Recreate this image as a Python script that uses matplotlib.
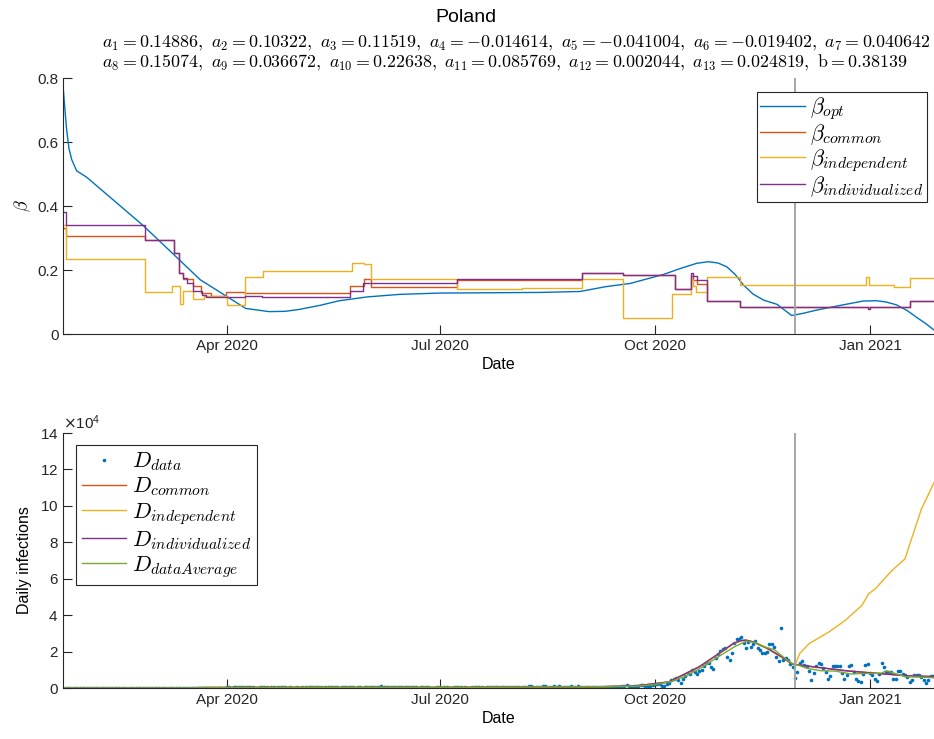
import matplotlib
matplotlib.use("Agg")
import matplotlib.pyplot as plt
import matplotlib.dates as mdates
from matplotlib.ticker import FuncFormatter, ScalarFormatter, FixedLocator
from matplotlib.font_manager import FontProperties
from datetime import datetime
import numpy as np

# ---------------- data ----------------
# days are counted from 22 Jan 2020
START = datetime(2020, 1, 22)
END_DAY = 372.4
CUT_DAY = 313  # 30 Nov 2020

country = "Poland"
a_text = ["0.14886", "0.10322", "0.11519", "-0.014614", "-0.041004", "-0.019402", "0.040642",
          "0.15074", "0.036672", "0.22638", "0.085769", "0.002044", "0.024819"]
b_text = "0.38139"

# beta_opt (smooth curve)
opt_days = [0, 0.7, 1.4, 2.4, 3.6, 5.7, 10, 22, 34, 47, 58.5, 70, 78, 88, 95, 101, 110, 118, 130,
            144, 161, 204, 221, 232, 242.4, 256.6, 264, 270.9, 275.9, 280, 283.8, 287.5, 290.9,
            295, 299.5, 305.2, 311.5, 316, 322.3, 332, 342, 347.8, 352, 356.4, 361, 365, 369,
            372.4]
opt_vals = [0.765, 0.70, 0.64, 0.58, 0.545, 0.51, 0.49, 0.415, 0.34, 0.25, 0.17, 0.117, 0.080,
            0.070, 0.071, 0.077, 0.090, 0.104, 0.116, 0.124, 0.128, 0.130, 0.133, 0.148, 0.158,
            0.186, 0.205, 0.221, 0.226, 0.222, 0.210, 0.185, 0.153, 0.125, 0.106, 0.093, 0.058,
            0.064, 0.075, 0.089, 0.103, 0.104, 0.100, 0.091, 0.073, 0.052, 0.032, 0.0125]

# step functions: change day -> value
common_days = [0, 1, 35, 47.5, 49.5, 51, 55.5, 59, 63, 69.5, 77.5, 122.5, 128.5, 131.5, 168.5,
               196, 222, 239.5, 261.5, 268.5, 269.5, 271, 275.5, 289.5, 362]
common_vals = [0.33, 0.305, 0.295, 0.252, 0.19, 0.171, 0.151, 0.129, 0.119, 0.130, 0.128, 0.151,
               0.171, 0.146, 0.168, 0.17, 0.192, 0.184, 0.141, 0.18, 0.17, 0.156, 0.104, 0.083, 0.104]

indep_days = [0, 1.3, 35, 46.5, 50, 51, 55.5, 60, 70, 77.5, 85.5, 123.5, 128.5, 131.5, 168.5,
              196, 222, 239.5, 260.5, 268.5, 269.5, 270.5, 275.5, 289.5, 343.5, 344.5, 355.5, 362]
indep_vals = [0.34, 0.235, 0.13, 0.15, 0.093, 0.135, 0.109, 0.119, 0.091, 0.179, 0.197, 0.223,
              0.218, 0.172, 0.140, 0.145, 0.171, 0.049, 0.125, 0.169, 0.15, 0.132, 0.179, 0.152,
              0.179, 0.152, 0.146, 0.174]

indiv_days = [0, 1, 35, 47.5, 49.5, 51, 53, 55.5, 59.5, 61, 77.5, 85, 122.5, 128, 168.5, 222,
              239.5, 261.5, 268.5, 269.5, 271, 275.5, 289.5, 344, 345, 362]
indiv_vals = [0.38, 0.34, 0.295, 0.252, 0.19, 0.174, 0.16, 0.135, 0.122, 0.115, 0.12, 0.115,
              0.134, 0.158, 0.171, 0.19, 0.184, 0.141, 0.19, 0.18, 0.169, 0.103, 0.083, 0.078,
              0.083, 0.104]

# daily infections, 22 Jan 2020 .. 28 Jan 2021
d_janfeb = [0] * 42
d_mar = [1, 0, 0, 4, 6, 6, 1, 5, 9, 17, 20, 35, 21, 52, 61, 49, 68, 70, 111, 115, 152, 170, 168,
         249, 224, 193, 256, 243]
d_apr = [392, 437, 244, 475, 311, 435, 357, 370, 380, 336, 318, 401, 260, 268, 380, 336, 363, 545,
         263, 545, 306, 263, 381, 460, 285, 316, 254, 380, 242, 241]
d_may = [294, 268, 306, 205, 344, 307, 325, 330, 313, 330, 595, 196, 292, 353, 323, 285, 375, 303,
         215, 327, 372, 287, 395, 443, 291, 264, 334, 352, 271, 416, 380]
d_jun = [292, 361, 333, 292, 576, 1151, 575, 282, 359, 395, 440, 506, 407, 379, 314, 407, 440, 310,
         371, 300, 301, 192, 298, 302, 305, 325, 260, 212, 232, 300]
d_jul = [371, 262, 373, 299, 243, 193, 290, 280, 299, 358, 264, 299, 233, 230, 299, 321, 358, 349,
         319, 271, 337, 358, 412, 418, 584, 443, 337, 512, 615, 615, 657]
d_aug = [658, 680, 502, 680, 640, 726, 809, 843, 832, 548, 599, 619, 624, 843, 832, 726, 548, 597,
         830, 811, 903, 671, 594, 597, 619, 887, 745, 581, 900, 550, 595]
d_sep = [555, 563, 586, 559, 632, 546, 377, 544, 600, 597, 555, 513, 496, 358, 501, 600, 834, 1002,
         1587, 1350, 744, 1136, 975, 1306, 1587, 1584, 1350, 1300, 1326, 1552]
d_oct = [1967, 1934, 2292, 1306, 1353, 2236, 3003, 4280, 4739, 5300, 4178, 2996, 5068, 6526, 8099,
         7705, 9622, 8536, 7482, 9291, 10040, 12107, 13632, 13628, 11742, 10241, 16300, 18820,
         20156, 21629, 21897]
d_nov = [17171, 15578, 19364, 24692, 27143, 27086, 27875, 24785, 21713, 25221, 22464, 24213, 25571,
         21854, 20816, 19152, 18960, 19883, 23975, 24213, 22683, 17060, 15002, 32733, 15362, 16687,
         15178, 13000, 11483, 5733]
d_dec = [8900, 13800, 14900, 12600, 12000, 9500, 4400, 8000, 12100, 13500, 13300, 11000, 8900, 4800,
         6600, 12200, 12000, 11900, 11900, 8400, 4800, 7100, 12000, 12900, 8900, 4900, 3800, 3100,
         7700, 12600, 13100]
d_jan = [8000, 7000, 4800, 3800, 7700, 14000, 11600, 8900, 9000, 8600, 4900, 5000, 9500, 9500, 7700,
         7000, 5800, 3100, 4400, 7100, 7100, 6900, 6200, 4400, 2600, 4400, 6600, 6600]

# model curves for daily infections (day, cases)
dcom_days = [0, 45, 60, 100, 140, 180, 200, 230, 245, 253, 259, 265, 272, 279.5, 286.6, 290, 292,
             295, 301, 306.5, 312, 321, 335, 349, 361, 372.4]
dcom_vals = [0, 0, 250, 350, 300, 350, 600, 700, 1200, 2300, 3300, 7100, 11600, 18000, 24400, 26000,
             26200, 25300, 21700, 17500, 13000, 11600, 9500, 8000, 6700, 6200]

dind_days = [0, 45, 60, 100, 140, 180, 200, 230, 245, 253, 259, 265, 272, 279.5, 286.6, 290, 292,
             295, 301, 306.5, 312, 321, 335, 349, 361, 372.4]
dind_vals = [0, 0, 260, 360, 300, 350, 600, 700, 1250, 2400, 3400, 7200, 11700, 18200, 24500, 26100,
             26300, 25400, 21900, 17700, 13100, 11600, 9400, 7900, 6700, 6300]

dindep_days = [0, 45, 60, 100, 140, 180, 200, 230, 245, 253, 259, 265, 272, 279.5, 286.6, 290, 292,
               295, 301, 306.5, 313, 315, 319, 327.5, 334.5, 341.6, 344.4, 347.3, 354.4, 360, 363,
               367, 372.4]
dindep_vals = [0, 0, 250, 350, 300, 350, 600, 700, 1200, 2300, 3300, 7100, 11600, 18000, 24400,
               26000, 26200, 25300, 21700, 17500, 12700, 19000, 24400, 30800, 37200, 45400, 51700,
               54500, 64500, 70900, 82700, 98200, 112700]

davg_days = [0, 45, 60, 100, 140, 180, 200, 230, 245, 253, 260, 266, 272, 280, 287, 292, 296, 300,
             304, 308, 311.5, 314, 318, 324, 330, 337, 342, 347, 350, 352, 355, 360, 366, 372.4]
davg_vals = [0, 0, 150, 350, 320, 330, 550, 700, 1000, 1900, 3500, 6500, 10500, 17000, 22600, 25700,
             25000, 22600, 21100, 17000, 13500, 12700, 10800, 9500, 9300, 7700, 8000, 8000, 8200,
             9500, 8300, 6200, 6000, 5700]

# ---------------- style ----------------
BLUE = "#0072BD"
ORANGE = "#D95319"
YELLOW = "#EDB120"
PURPLE = "#7E2F8E"
GREEN = "#77AC30"
AXC = "#262626"

plt.rcParams["font.family"] = ["Liberation Sans", "DejaVu Sans"]
plt.rcParams["mathtext.fontset"] = "cm"
plt.rcParams["axes.edgecolor"] = AXC
plt.rcParams["axes.linewidth"] = 0.8
plt.rcParams["xtick.color"] = AXC
plt.rcParams["ytick.color"] = AXC

t0 = mdates.date2num(START)
LW = 1.0


def to_x(days):
    return t0 + np.asarray(days, dtype=float)


def steps(days, vals):
    # extend last level to the end of the axis
    return to_x(list(days) + [END_DAY]), list(vals) + [vals[-1]]


def style_axes(ax):
    ax.spines["top"].set_visible(False)
    ax.spines["right"].set_visible(False)
    ax.tick_params(direction="in", length=6.5, width=0.8, labelsize=11, top=False, right=False)
    ax.xaxis.set_major_locator(mdates.MonthLocator(bymonth=[1, 4, 7, 10]))
    ax.xaxis.set_major_formatter(mdates.DateFormatter("%b %Y"))
    ax.set_xlim(to_x(0), to_x(END_DAY))
    ax.set_xlabel("Date", fontsize=11.5, labelpad=3)


def make_legend(ax, **kw):
    leg = ax.legend(borderaxespad=0, prop=FontProperties(size=16), fancybox=False,
                    framealpha=1, edgecolor=AXC, handletextpad=0.25, handlelength=2.0,
                    **kw)
    leg.get_frame().set_linewidth(0.8)
    return leg


fig = plt.figure(figsize=(9.34, 7.39), dpi=100)

# ---------------- top: beta ----------------
ax1 = fig.add_axes([0.0678, 0.548, 0.9322, 0.3464])
ax1.plot(to_x(opt_days), opt_vals, color=BLUE, lw=LW, label=r"$\beta_{opt}$")
x, y = steps(common_days, common_vals)
ax1.plot(x, y, drawstyle="steps-post", color=ORANGE, lw=LW, label=r"$\beta_{common}$")
x, y = steps(indep_days, indep_vals)
ax1.plot(x, y, drawstyle="steps-post", color=YELLOW, lw=LW, label=r"$\beta_{independent}$")
x, y = steps(indiv_days, indiv_vals)
ax1.plot(x, y, drawstyle="steps-post", color=PURPLE, lw=LW, label=r"$\beta_{individualized}$")
ax1.axvline(to_x(CUT_DAY), color="#a6a6a6", lw=1.4, zorder=5)
ax1.set_ylim(0, 0.8)
ax1.yaxis.set_major_locator(FixedLocator([0, 0.2, 0.4, 0.6, 0.8]))
ax1.yaxis.set_major_formatter(FuncFormatter(lambda v, p: "%g" % v))
style_axes(ax1)
ax1.set_ylabel(r"$\beta$", fontsize=13, labelpad=3)
make_legend(ax1, loc="upper right", bbox_to_anchor=(0.992, 0.945),
            labelspacing=0.0, borderpad=0.15)

# ---------------- bottom: daily infections ----------------
d_data = d_janfeb + d_mar + d_apr + d_may + d_jun + d_jul + d_aug + d_sep + d_oct + d_nov + d_dec + d_jan
ax2 = fig.add_axes([0.0678, 0.069, 0.9322, 0.345])
ax2.plot(to_x(np.arange(len(d_data))), d_data, "o", ms=2.6, mew=0, color=BLUE, label=r"$D_{data}$")
ax2.plot(to_x(dcom_days), dcom_vals, color=ORANGE, lw=LW, label=r"$D_{common}$")
ax2.plot(to_x(dindep_days), dindep_vals, color=YELLOW, lw=LW, label=r"$D_{independent}$")
ax2.plot(to_x(dind_days), dind_vals, color=PURPLE, lw=LW, label=r"$D_{individualized}$")
ax2.plot(to_x(davg_days), davg_vals, color=GREEN, lw=LW, label=r"$D_{dataAverage}$")
ax2.axvline(to_x(CUT_DAY), color="#a6a6a6", lw=1.4, zorder=5)
ax2.set_ylim(0, 140000)
ax2.yaxis.set_major_locator(FixedLocator(np.arange(0, 140001, 20000)))
fmt = ScalarFormatter(useMathText=True)
fmt.set_powerlimits((4, 4))
ax2.yaxis.set_major_formatter(fmt)
style_axes(ax2)
ax2.yaxis.get_offset_text().set_fontsize(11)
ax2.yaxis.get_offset_text().set_math_fontfamily("dejavusans")
ax2.set_ylabel("Daily infections", fontsize=11.5, labelpad=6)
make_legend(ax2, loc="upper left", bbox_to_anchor=(0.015, 0.953),
            labelspacing=0.1, borderpad=0.25, numpoints=1)

# ---------------- title ----------------
line1 = ",\\ ".join("a_{%d} = %s" % (i + 1, a_text[i]) for i in range(7))
line2 = ",\\ ".join("a_{%d} = %s" % (i + 1, a_text[i]) for i in range(7, 13))
line2 += ",\\ \\mathrm{b} = " + b_text
fig.text(466 / 934, 1 - 18 / 739, country, ha="center", va="center", fontsize=14)
fig.text(102 / 934, 1 - 43 / 739, "$" + line1 + "$", ha="left", va="center", fontsize=12.9)
fig.text(102 / 934, 1 - 63 / 739, "$" + line2 + "$", ha="left", va="center", fontsize=12.9)

fig.savefig("out.png", dpi=100)
